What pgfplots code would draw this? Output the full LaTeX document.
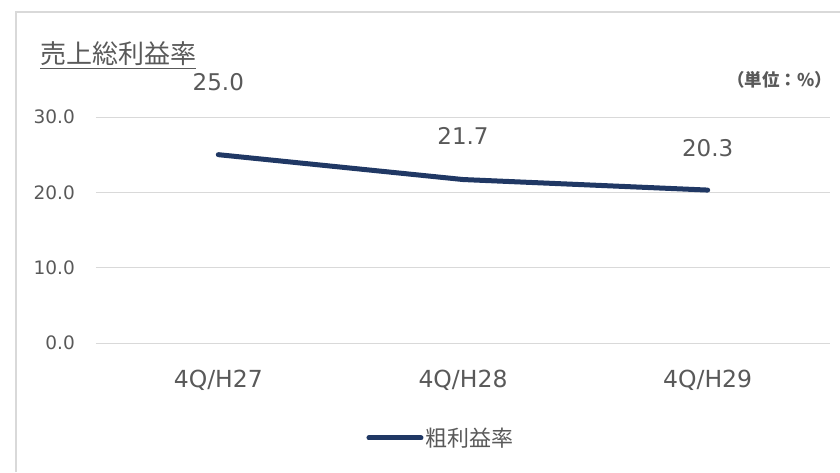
\documentclass[border=0pt]{standalone}
\usepackage{fontspec}
\setmainfont{DejaVu Sans}
\newfontfamily\cjk{Noto Sans CJK JP}
\usepackage{pgfplots}
\pgfplotsset{compat=1.18}
\definecolor{navy}{HTML}{203864}
\definecolor{txt}{HTML}{595959}
\definecolor{gridc}{HTML}{D9D9D9}
\pgfplotsset{
  longline/.style={legend image code/.code={\draw[##1] (0pt,0pt) -- (52pt,0pt);}},
}

\begin{document}
\begin{tikzpicture}[x=1pt,y=1pt]
\path[use as bounding box] (0,0) rectangle (840,472);
\draw[gridc, line width=1.5pt] (16,0) -- (16,460) -- (840,460);
% title
\node[anchor=base west, text=txt, font=\cjk\fontsize{26}{30}\selectfont, inner sep=0pt] (t) at (40,408) {売上総利益率};
\draw[txt, line width=1.2pt] (40,403.5) -- (t.east |- 0,403.5);
\node[anchor=east, text=txt, font=\cjk\fontsize{17.5}{20}\selectfont, inner sep=0pt] at (832,392) {\textbf{（単位：\%）}};

\begin{axis}[
  at={(96pt,129pt)}, anchor=south west,
  scale only axis, width=734pt, height=226pt,
  xmin=-0.5, xmax=2.5, ymin=0, ymax=30,
  axis line style={draw=none},
  major tick length=0pt,
  ytick={0,10,20,30},
  ymajorgrids, grid style={gridc, line width=1pt},
  xtick=data, xticklabels={4Q/H27,4Q/H28,4Q/H29},
  /pgf/number format/assume math mode=true,
  yticklabel style={/pgf/number format/.cd, fixed, fixed zerofill, precision=1, /tikz/.cd,
    anchor=east, inner sep=0pt, xshift=-21pt, text=txt, font=\fontsize{18.5}{22}\selectfont},
  xticklabel style={anchor=center, inner sep=0pt, yshift=-37pt, text=txt, font=\fontsize{23.5}{27}\selectfont},
  clip=false,
  legend style={draw=none, at={(0.47,-0.42)}, anchor=center, text=txt, font=\fontsize{22}{26}\selectfont},
]
\addplot[navy, line width=5pt, line cap=round, longline] coordinates {(0,25.0) (1,21.7) (2,20.3)};
\addlegendentry{\cjk 粗利益率}
\node[text=txt, font=\fontsize{23}{27}\selectfont] at (axis cs:0,34.65) {25.0};
\node[text=txt, font=\fontsize{23}{27}\selectfont] at (axis cs:1,27.48) {21.7};
\node[text=txt, font=\fontsize{23}{27}\selectfont] at (axis cs:2,25.89) {20.3};
\end{axis}
\end{tikzpicture}
\end{document}
